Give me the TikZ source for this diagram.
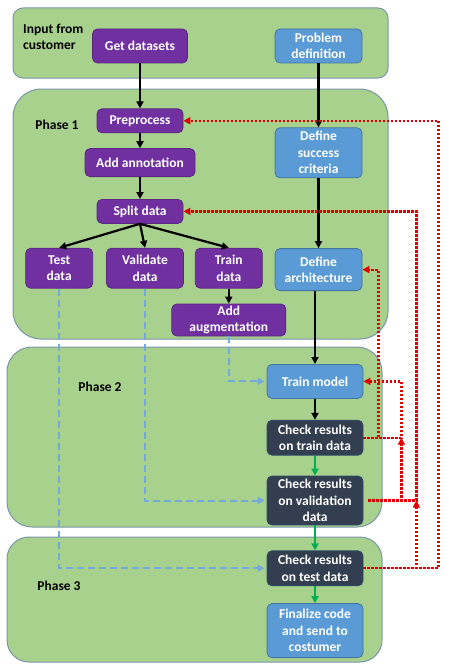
\documentclass[tikz,border=0pt]{standalone}
\usepackage{fontspec}
\setmainfont{Carlito}
\usetikzlibrary{positioning, arrows.meta, fit, backgrounds}

\definecolor{phasegreen}{HTML}{A9D18E}
\definecolor{phaseedge}{HTML}{7A95A8}
\definecolor{stepviolet}{HTML}{7030A0}
\definecolor{stepblue}{HTML}{5B9BD5}
\definecolor{stepnavy}{HTML}{333F50}
\definecolor{okgreen}{HTML}{00B050}
\definecolor{feedred}{HTML}{E00000}

\begin{document}
\begin{tikzpicture}[
    x=1pt, y=-1pt,
    font=\fontsize{13.5}{16.5}\selectfont\bfseries,
    box/.style={rectangle, rounded corners=5pt, text=white, align=center, inner sep=1pt, line width=0.8pt},
    violetbox/.style={box, fill=stepviolet, draw=stepviolet!80!black},
    bluebox/.style={box, fill=stepblue, draw=stepblue!75!black},
    navybox/.style={box, fill=stepnavy, draw=stepblue!50!black},
    phase/.style={rectangle, fill=phasegreen, draw=phaseedge, line width=1pt, inner sep=0pt},
    tag/.style={text=black, inner sep=0pt},
    arrow/.style={-{Triangle[length=7pt, width=7pt]}, line width=2.2pt, draw=black},
    greenarrow/.style={arrow, draw=okgreen, fill=okgreen},
    dasharrow/.style={-{Triangle[length=7pt, width=7pt]}, line width=2pt, draw=stepblue!85!white, dash pattern=on 7pt off 4pt, shorten >=2pt},
    feedback/.style={-{Triangle[length=7pt, width=7pt]}, line width=2.2pt, draw=feedred, dash pattern=on 2.2pt off 1.8pt},
]
\useasboundingbox (0,0) rectangle (453,669);

% Data path
\node[violetbox, minimum width=95pt, minimum height=34pt] (getdata) at (140,46) {Get datasets};
\node[violetbox, minimum width=86pt, minimum height=24pt, below=45pt of getdata] (preprocess) {Preprocess};
\node[violetbox, minimum width=110pt, minimum height=28pt, below=15pt of preprocess] (annot) {Add annotation};
\node[violetbox, minimum width=86pt, minimum height=24pt, below=22pt of annot] (split) {Split data};
\node[violetbox, minimum width=77pt, minimum height=40pt, below=24pt of split, xshift=5pt] (validate) {Validate\\data};
\node[violetbox, minimum width=67pt, minimum height=40pt, left=13pt of validate] (testdata) {Test\\data};
\node[violetbox, minimum width=67pt, minimum height=40pt, right=11pt of validate] (traindata) {Train\\data};
\node[violetbox, minimum width=114pt, minimum height=32pt, below=15pt of traindata] (augment) {Add\\augmentation};

% Model path
\node[bluebox, minimum width=87pt, minimum height=34pt] (probdef) at (318.5,46) {Problem\\definition};
\node[bluebox, minimum width=87pt, minimum height=50pt, below=64pt of probdef] (success) {Define\\success\\criteria};
\node[bluebox, minimum width=87pt, minimum height=42pt, below=70pt of success] (arch) {Define\\architecture};
\node[bluebox, minimum width=96pt, minimum height=34pt, below=73pt of arch, xshift=-3.5pt] (trainmodel) {Train model};
\node[navybox, minimum width=96pt, minimum height=35pt, below=21pt of trainmodel] (chktrain) {Check results\\on train data};
\node[navybox, minimum width=96pt, minimum height=49pt, below=20pt of chktrain] (chkval) {Check results\\on validation\\data};
\node[navybox, minimum width=96pt, minimum height=35pt, below=25pt of chkval] (chktest) {Check results\\on test data};
\node[bluebox, minimum width=96pt, minimum height=54pt, below=17pt of chktest] (final) {Finalize code\\and send to\\costumer};

% Stage labels
\node[tag, anchor=west, align=left] (inputlbl) at (23,37) {Input from\\customer};
\node[tag] (phaseonelbl) at (57,125) {Phase 1};
\node[tag] (phasetwolbl) at (100,387) {Phase 2};
\node[tag] (phasethreelbl) at (59,586) {Phase 3};

% Backgrounds
\begin{scope}[on background layer]
    \node[phase, rounded corners=10pt, fit={(13,8) (388,78)}] (inputbg) {};
    \node[phase, rounded corners=28pt, fit={(13,89) (388,339)}] (phaseonebg) {};
    \node[phase, rounded corners=25pt, fit={(7,347) (382,527)}] (phasetwobg) {};
    \node[phase, rounded corners=22pt, fit={(7,537) (382,662)}] (phasethreebg) {};
\end{scope}

% Main flow
\draw[arrow] (getdata) -- (preprocess);
\draw[arrow] (preprocess) -- (annot);
\draw[arrow] (annot) -- (split);
\draw[arrow] (split.south) -- (testdata.north);
\draw[arrow] (split.south) -- (validate.north);
\draw[arrow] (split.south) -- (traindata.north);
\draw[arrow] (traindata) -- (augment);
\draw[arrow] (probdef) -- (success);
\draw[arrow] (success) -- (arch);
\draw[arrow] (trainmodel.north |- arch.south) -- (trainmodel.north);
\draw[arrow] (trainmodel) -- (chktrain);
\draw[greenarrow] (chktrain) -- (chkval);
\draw[greenarrow] (chkval) -- (chktest);
\draw[greenarrow] (chktest) -- (final);

% Data feeds
\draw[dasharrow] (augment.south) |- (trainmodel.west);
\draw[dasharrow] (validate.south) |- (chkval.west);
\draw[dasharrow] (testdata.south) |- (chktest.west);

% Feedback loops
\coordinate (archcorner) at ([xshift=15pt]chktrain.east);
\coordinate (traincorner) at ([xshift=38pt]chktrain.east);
\coordinate (valcorner) at ([xshift=53pt]chkval.east);
\coordinate (testcorner) at ([xshift=75pt]chktest.east);
\draw[feedback] (chktrain.east) -- (archcorner) |- (arch.east);
\draw[feedback] (chktrain.east) -- (traincorner) |- (trainmodel.east);
\draw[feedback] ([xshift=5pt]chkval.east) -| (traincorner);
\draw[feedback] ([xshift=5pt]chkval.east) -- (valcorner) |- (split.east);
\draw[feedback] (chktest.east) -| (valcorner);
\draw[feedback] (chktest.east) -- (testcorner) |- (preprocess.east);

\end{tikzpicture}
\end{document}
